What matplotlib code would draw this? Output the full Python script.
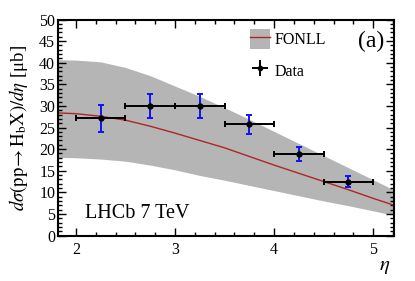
import numpy as np
import matplotlib
matplotlib.use("Agg")
import matplotlib.pyplot as plt
from matplotlib.patches import Patch
from matplotlib.lines import Line2D
from matplotlib.ticker import MultipleLocator

plt.rcParams['font.family'] = ['Liberation Serif', 'DejaVu Serif']
plt.rcParams['mathtext.fontset'] = 'stix'

# Data points
eta_c = [2.25, 2.75, 3.25, 3.75, 4.25, 4.75]
eta_hw = [0.25, 0.25, 0.25, 0.25, 0.25, 0.25]
xsec = [27.1, 30.0, 29.9, 25.8, 18.9, 12.5]
xsec_err = [3.1, 2.8, 2.8, 2.2, 1.7, 1.3]

# FONLL prediction
fonll_eta = [1.8, 2.0, 2.25, 2.5, 2.75, 3.0, 3.25, 3.5, 3.75, 4.0, 4.25, 4.5, 4.75, 5.0, 5.25]
fonll_up = [40.7, 40.6, 40.2, 38.9, 37.0, 34.6, 32.2, 29.6, 26.9, 24.1, 21.3, 18.5, 15.7, 12.9, 10.1]
fonll_lo = [18.1, 18.0, 17.7, 17.2, 16.3, 15.2, 13.9, 12.8, 11.6, 10.4, 9.2, 8.0, 6.9, 5.7, 4.5]
fonll_c = [28.4, 28.2, 27.6, 26.7, 25.3, 23.7, 22.0, 20.3, 18.3, 16.3, 14.4, 12.5, 10.6, 8.6, 6.7]

fig = plt.figure(figsize=(4.15, 2.81), dpi=100)
ax = fig.add_axes([0.1398, 0.1619, 0.9494 - 0.1398, 0.9306 - 0.1619])

band_col = '#b5b5b5'
line_col = '#b02525'
ax.fill_between(fonll_eta, fonll_lo, fonll_up, color=band_col, lw=0, zorder=1)
ax.plot(fonll_eta, fonll_c, color=line_col, lw=1.0, zorder=2)

ax.errorbar(eta_c, xsec, xerr=eta_hw, fmt='none', ecolor='black', elinewidth=1.4,
            capsize=2.5, capthick=1.4, zorder=3)
ax.errorbar(eta_c, xsec, yerr=xsec_err, fmt='none', ecolor='#1010ff', elinewidth=1.4,
            capsize=2.5, capthick=1.4, zorder=4)
ax.plot(eta_c, xsec, 'o', color='black', ms=3.5, zorder=5)

ax.set_xlim(1.82, 5.21)
ax.set_ylim(0, 50)
ax.xaxis.set_major_locator(MultipleLocator(1))
ax.xaxis.set_minor_locator(MultipleLocator(0.2))
ax.yaxis.set_major_locator(MultipleLocator(5))
ax.yaxis.set_minor_locator(MultipleLocator(1))
ax.tick_params(which='both', direction='in', top=True, right=True, labelsize=11.5, width=1.0)
ax.tick_params(which='major', length=6)
ax.tick_params(which='minor', length=3)
ax.tick_params(axis='x', pad=5)
ax.tick_params(axis='y', pad=2)
for s in ax.spines.values():
    s.set_linewidth(1.5)

ax.set_ylabel(r'$d\sigma(\mathrm{pp}\!\rightarrow\mathrm{H_b X})/d\eta$ [μb]', fontsize=13.5, labelpad=7)
ax.set_xlabel(r'$\eta$', fontsize=15)
ax.xaxis.set_label_coords(0.99, -0.1)
ax.xaxis.label.set_horizontalalignment('right')

ax.text(0.08, 0.08, 'LHCb 7 TeV', transform=ax.transAxes, fontsize=14.5, ha='left', va='baseline')
ax.text(0.97, 0.90, '(a)', transform=ax.transAxes, fontsize=17, ha='right', va='center')

fonll_handle = (Patch(facecolor=band_col, edgecolor='none'), Line2D([], [], color=line_col, lw=1.0))
data_handle = ax.errorbar([np.nan], [np.nan], xerr=[0.1], yerr=[0.1], fmt='o', color='black',
                          ms=3, elinewidth=1.4, capsize=0)
leg = ax.legend([fonll_handle, data_handle], ['FONLL', 'Data'], loc='upper left',
                bbox_to_anchor=(0.57, 0.955), frameon=False, fontsize=11.5,
                handlelength=1.3, handleheight=1.5, handletextpad=0.3, labelspacing=0.75,
                borderaxespad=0, borderpad=0.0)

fig.savefig('out.png', dpi=100)
